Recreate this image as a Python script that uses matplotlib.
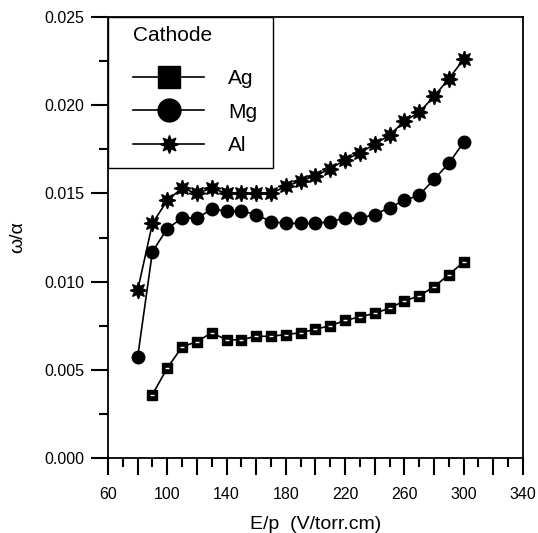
import matplotlib
matplotlib.use("Agg")
import matplotlib.pyplot as plt
from matplotlib.lines import Line2D
from matplotlib.patches import Rectangle
from matplotlib.ticker import MultipleLocator, FuncFormatter

plt.rcParams['font.family'] = ['Liberation Sans', 'DejaVu Sans']

# data
ep_ag = [90, 100, 110, 120, 130, 140, 150, 160, 170, 180, 190, 200, 210, 220,
         230, 240, 250, 260, 270, 280, 290, 300]
ag = [0.0036, 0.0051, 0.0063, 0.0066, 0.0071, 0.0067, 0.0067, 0.0069, 0.0069,
      0.0070, 0.0071, 0.0073, 0.0075, 0.0078, 0.0080, 0.0082, 0.0085, 0.0089,
      0.0092, 0.0097, 0.0104, 0.0111]

ep = [80, 90, 100, 110, 120, 130, 140, 150, 160, 170, 180, 190, 200, 210, 220,
      230, 240, 250, 260, 270, 280, 290, 300]
mg = [0.0057, 0.0117, 0.0130, 0.0136, 0.0136, 0.0141, 0.0140, 0.0140, 0.0138,
      0.0134, 0.0133, 0.0133, 0.0133, 0.0134, 0.0136, 0.0136, 0.0138, 0.0142,
      0.0146, 0.0149, 0.0158, 0.0167, 0.0179]
al = [0.0095, 0.0133, 0.0146, 0.0153, 0.0150, 0.0153, 0.0150, 0.0150, 0.0150,
      0.0150, 0.0154, 0.0157, 0.0160, 0.0164, 0.0169, 0.0173, 0.0178, 0.0183,
      0.0191, 0.0196, 0.0205, 0.0215, 0.0226]

labels = ['Ag', 'Mg', 'Al']

fig = plt.figure(figsize=(5.38, 5.33), dpi=100)
ax = fig.add_axes([0.2007, 0.1407, 0.7713, 0.8274])

ax.plot(ep_ag, ag, color='black', lw=1.2, marker='s', ms=7, mfc='black', mec='black')
ax.plot(ep_ag, ag, ls='none', marker='_', ms=3, mec='white', mew=1)
ax.plot(ep, mg, color='black', lw=1.2, marker='o', ms=9, mfc='black', mec='black')
ax.plot(ep, al, color='black', lw=1.2, marker=(8, 1, 0), ms=12, mfc='black', mec='black')

ax.set_xlim(60, 340)
ax.set_ylim(0, 0.025)
ax.xaxis.set_major_locator(MultipleLocator(20))
ax.xaxis.set_minor_locator(MultipleLocator(10))
ax.xaxis.set_major_formatter(FuncFormatter(lambda v, p: '%d' % v if int(round(v)) % 40 == 20 else ''))
ax.yaxis.set_major_locator(MultipleLocator(0.005))
ax.yaxis.set_minor_locator(MultipleLocator(0.0025))
ax.yaxis.set_major_formatter(FuncFormatter(lambda v, p: '%.3f' % v))

for s in ax.spines.values():
    s.set_linewidth(1.3)
ax.tick_params(which='major', direction='out', length=12, width=1.5, labelsize=11.5)
ax.tick_params(which='minor', direction='out', length=6.5, width=1.5)
ax.tick_params(axis='y', which='major', pad=5)
ax.tick_params(axis='x', which='major', pad=9)

ax.set_xlabel('E/p  (V/torr.cm)', fontsize=14, labelpad=10)
ax.set_ylabel('ω/α', fontsize=14, labelpad=13)

# legend frame and title drawn separately to match the spacing of the original
ax.add_patch(Rectangle((0, 0.6576), 0.3976, 0.3424, transform=ax.transAxes,
                       facecolor='white', edgecolor='black', lw=1.0, zorder=4))
ax.text(0.0602, 0.957, 'Cathode', transform=ax.transAxes, fontsize=15,
        ha='left', va='center', zorder=6)

handles = [
    Line2D([], [], color='black', lw=1.2, marker='s', ms=16.5, mfc='black'),
    Line2D([], [], color='black', lw=1.2, marker='o', ms=16.5, mfc='black'),
    Line2D([], [], color='black', lw=1.2, marker=(8, 1, 0), ms=13, mfc='black'),
]
leg = ax.legend(handles, labels, loc='upper left',
                bbox_to_anchor=(-0.0145, 0.9525), borderaxespad=0, fontsize=15,
                handlelength=3.4, handletextpad=1.15,
                labelspacing=0.7, borderpad=1.5, frameon=False)
leg.set_zorder(5)

fig.savefig('out.png', dpi=100)
